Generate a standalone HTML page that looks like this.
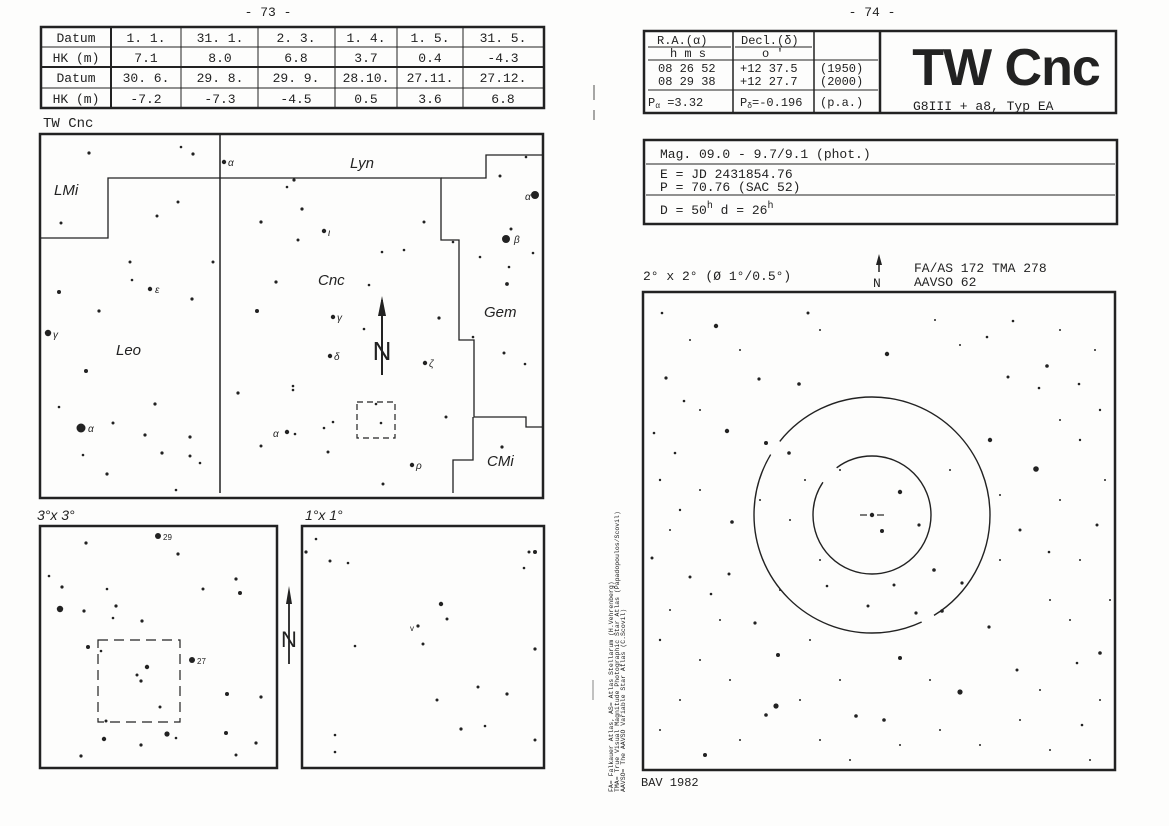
<!DOCTYPE html>
<html><head><meta charset="utf-8"><style>
html,body{margin:0;padding:0;background:#fff;}
svg{display:block}
text{font-family:"Liberation Mono",monospace;fill:#222}
text.s{font-family:"Liberation Sans",sans-serif;font-style:italic}
text.sa{font-family:"Liberation Sans",sans-serif}
</style></head><body>
<svg width="1169" height="826" viewBox="0 0 1169 826" xmlns="http://www.w3.org/2000/svg">
<rect width="1169" height="826" fill="#fdfdfc"/>
<line x1="594" y1="85" x2="594" y2="100" stroke="#888" stroke-width="1.5"/>
<line x1="594" y1="110" x2="594" y2="120" stroke="#888" stroke-width="1.5"/>
<line x1="593" y1="680" x2="593" y2="700" stroke="#999" stroke-width="1.2"/>

<!-- LEFT PAGE -->
<text x="268" y="16" font-size="13" text-anchor="middle">- 73 -</text>
<g stroke="#222" fill="none">
<rect x="41" y="27" width="503" height="81" stroke-width="2.5"/>
<line x1="41" y1="47" x2="544" y2="47" stroke-width="1"/>
<line x1="41" y1="67" x2="544" y2="67" stroke-width="2"/>
<line x1="41" y1="88" x2="544" y2="88" stroke-width="1"/>
<line x1="111" y1="27" x2="111" y2="108" stroke-width="2"/>
<line x1="181" y1="27" x2="181" y2="108"/>
<line x1="258" y1="27" x2="258" y2="108"/>
<line x1="335" y1="27" x2="335" y2="108"/>
<line x1="397" y1="27" x2="397" y2="108"/>
<line x1="463" y1="27" x2="463" y2="108"/>
</g>
<g font-size="13" text-anchor="middle">
<text x="76" y="42">Datum</text><text x="146" y="42">1. 1.</text><text x="220" y="42">31. 1.</text><text x="296" y="42">2. 3.</text><text x="366" y="42">1. 4.</text><text x="430" y="42">1. 5.</text><text x="503" y="42">31. 5.</text>
<text x="76" y="62">HK (m)</text><text x="146" y="62">7.1</text><text x="220" y="62">8.0</text><text x="296" y="62">6.8</text><text x="366" y="62">3.7</text><text x="430" y="62">0.4</text><text x="503" y="62">-4.3</text>
<text x="76" y="82">Datum</text><text x="146" y="82">30. 6.</text><text x="220" y="82">29. 8.</text><text x="296" y="82">29. 9.</text><text x="366" y="82">28.10.</text><text x="430" y="82">27.11.</text><text x="503" y="82">27.12.</text>
<text x="76" y="103">HK (m)</text><text x="146" y="103">-7.2</text><text x="220" y="103">-7.3</text><text x="296" y="103">-4.5</text><text x="366" y="103">0.5</text><text x="430" y="103">3.6</text><text x="503" y="103">6.8</text>
</g>
<text x="43" y="127" font-size="14">TW Cnc</text>

<g stroke="#222" fill="none">
<rect x="40" y="134" width="503" height="364" stroke-width="2.5"/>
<line x1="220" y1="134" x2="220" y2="493" stroke-width="1.5"/>
<polyline points="40,238 108,238 108,178 441,178 441,240 459,240 459,340 474,340 474,417 526,417 526,427 543,427" stroke-width="1.3"/>
<polyline points="441,178 486,178 486,155 543,155" stroke-width="1.3"/>
<polyline points="473,417 473,460 453,460 453,493" stroke-width="1.3"/>
<rect x="357" y="402" width="38" height="36" stroke-dasharray="6,4" stroke-width="1.2"/>
<line x1="382" y1="300" x2="382" y2="375" stroke-width="2"/>
</g>
<polygon points="382,296 378,316 386,316" fill="#222"/>
<text x="382" y="360" font-size="26" class="sa" text-anchor="middle">N</text>
<g font-size="15">
<text class="s" x="54" y="195">LMi</text><text class="s" x="350" y="168">Lyn</text><text class="s" x="318" y="285">Cnc</text>
<text class="s" x="484" y="317">Gem</text><text class="s" x="116" y="355">Leo</text><text class="s" x="487" y="466">CMi</text>
</g>
<g fill="#222">
<circle cx="89" cy="153" r="1.6"/><circle cx="181" cy="147" r="1.3"/><circle cx="193" cy="154" r="1.6"/><circle cx="224" cy="162" r="2.2"/>
<circle cx="294" cy="180" r="1.6"/><circle cx="287" cy="187" r="1.3"/><circle cx="178" cy="202" r="1.5"/><circle cx="157" cy="216" r="1.5"/>
<circle cx="61" cy="223" r="1.5"/><circle cx="302" cy="209" r="1.6"/><circle cx="261" cy="222" r="1.6"/><circle cx="324" cy="231" r="2.2"/>
<circle cx="424" cy="222" r="1.5"/><circle cx="298" cy="240" r="1.5"/><circle cx="382" cy="252" r="1.3"/><circle cx="404" cy="250" r="1.3"/>
<circle cx="453" cy="242" r="1.3"/><circle cx="526" cy="157" r="1.3"/><circle cx="500" cy="176" r="1.5"/><circle cx="535" cy="195" r="4"/>
<circle cx="511" cy="229" r="1.5"/><circle cx="506" cy="239" r="4"/><circle cx="480" cy="257" r="1.3"/><circle cx="533" cy="253" r="1.3"/>
<circle cx="509" cy="267" r="1.3"/><circle cx="507" cy="284" r="1.9"/><circle cx="130" cy="262" r="1.5"/><circle cx="213" cy="262" r="1.5"/>
<circle cx="132" cy="280" r="1.3"/><circle cx="150" cy="289" r="2.2"/><circle cx="192" cy="299" r="1.6"/><circle cx="59" cy="292" r="2"/>
<circle cx="276" cy="282" r="1.6"/><circle cx="369" cy="285" r="1.3"/><circle cx="99" cy="311" r="1.6"/><circle cx="257" cy="311" r="2"/>
<circle cx="333" cy="317" r="2.2"/><circle cx="439" cy="318" r="1.6"/><circle cx="364" cy="329" r="1.3"/><circle cx="48" cy="333" r="3.2"/>
<circle cx="473" cy="337" r="1.3"/><circle cx="330" cy="356" r="2.2"/><circle cx="425" cy="363" r="2.2"/><circle cx="504" cy="353" r="1.5"/>
<circle cx="525" cy="364" r="1.3"/><circle cx="86" cy="371" r="2"/><circle cx="293" cy="386" r="1.3"/><circle cx="293" cy="390" r="1.3"/>
<circle cx="238" cy="393" r="1.6"/><circle cx="59" cy="407" r="1.3"/><circle cx="155" cy="404" r="1.6"/><circle cx="376" cy="404" r="1.3"/>
<circle cx="381" cy="423" r="1.3"/><circle cx="446" cy="417" r="1.5"/><circle cx="81" cy="428" r="4.5"/><circle cx="113" cy="423" r="1.5"/>
<circle cx="333" cy="422" r="1.3"/><circle cx="324" cy="428" r="1.3"/><circle cx="287" cy="432" r="2.2"/><circle cx="295" cy="434" r="1.3"/>
<circle cx="145" cy="435" r="1.6"/><circle cx="190" cy="437" r="1.6"/><circle cx="261" cy="446" r="1.5"/><circle cx="328" cy="452" r="1.5"/>
<circle cx="83" cy="455" r="1.3"/><circle cx="162" cy="453" r="1.6"/><circle cx="190" cy="456" r="1.5"/><circle cx="200" cy="463" r="1.3"/>
<circle cx="412" cy="465" r="2.2"/><circle cx="502" cy="447" r="1.6"/><circle cx="107" cy="474" r="1.6"/><circle cx="383" cy="484" r="1.5"/><circle cx="176" cy="490" r="1.3"/>
</g>
<g font-size="10">
<text class="s" x="228" y="166">α</text><text class="s" x="328" y="236">ι</text><text class="s" x="155" y="293">ε</text><text class="s" x="337" y="321">γ</text><text class="s" x="53" y="338">γ</text>
<text class="s" x="334" y="360">δ</text><text class="s" x="429" y="367">ζ</text><text class="s" x="514" y="243">β</text><text class="s" x="525" y="200">α</text><text class="s" x="88" y="432">α</text>
<text class="s" x="273" y="437">α</text><text class="s" x="416" y="469">ρ</text>
</g>

<text x="37" y="520" class="s" font-size="14">3°x 3°</text>
<text x="305" y="520" class="s" font-size="14">1°x 1°</text>
<g stroke="#222" fill="none">
<rect x="40" y="526" width="237" height="242" stroke-width="2.5"/>
<rect x="302" y="526" width="242" height="242" stroke-width="2.5"/>
<rect x="98" y="640" width="82" height="82" stroke-dasharray="10,6" stroke-width="1.2"/>
<line x1="289" y1="592" x2="289" y2="664" stroke-width="1.8"/>
</g>
<polygon points="289,586 286,604 292,604" fill="#222"/>
<text x="289" y="647" font-size="22" text-anchor="middle" class="sa">N</text>
<g fill="#222">
<circle cx="158" cy="536" r="3"/><circle cx="86" cy="543" r="1.6"/><circle cx="178" cy="554" r="1.6"/><circle cx="49" cy="576" r="1.3"/>
<circle cx="62" cy="587" r="1.6"/><circle cx="236" cy="579" r="1.6"/><circle cx="107" cy="589" r="1.3"/><circle cx="203" cy="589" r="1.5"/>
<circle cx="240" cy="593" r="2"/><circle cx="60" cy="609" r="3.2"/><circle cx="84" cy="611" r="1.6"/><circle cx="116" cy="606" r="1.6"/>
<circle cx="113" cy="618" r="1.3"/><circle cx="142" cy="621" r="1.6"/><circle cx="88" cy="647" r="2"/><circle cx="101" cy="651" r="1.3"/>
<circle cx="192" cy="660" r="3"/><circle cx="147" cy="667" r="2.2"/><circle cx="137" cy="675" r="1.5"/><circle cx="141" cy="681" r="1.6"/>
<circle cx="227" cy="694" r="2"/><circle cx="261" cy="697" r="1.6"/><circle cx="160" cy="707" r="1.5"/><circle cx="106" cy="721" r="1.5"/>
<circle cx="167" cy="734" r="2.6"/><circle cx="104" cy="739" r="2.2"/><circle cx="176" cy="738" r="1.3"/><circle cx="226" cy="733" r="2"/>
<circle cx="141" cy="745" r="1.6"/><circle cx="256" cy="743" r="1.6"/><circle cx="81" cy="756" r="1.6"/><circle cx="236" cy="755" r="1.5"/>
<circle cx="316" cy="539" r="1.3"/><circle cx="306" cy="552" r="1.6"/><circle cx="330" cy="561" r="1.5"/><circle cx="348" cy="563" r="1.3"/>
<circle cx="529" cy="552" r="1.5"/><circle cx="535" cy="552" r="2"/><circle cx="524" cy="568" r="1.3"/><circle cx="441" cy="604" r="2.2"/>
<circle cx="447" cy="619" r="1.5"/><circle cx="418" cy="626" r="1.6"/><circle cx="355" cy="646" r="1.3"/><circle cx="423" cy="644" r="1.5"/>
<circle cx="535" cy="649" r="1.6"/><circle cx="478" cy="687" r="1.5"/><circle cx="507" cy="694" r="1.6"/><circle cx="437" cy="700" r="1.5"/>
<circle cx="461" cy="729" r="1.6"/><circle cx="485" cy="726" r="1.3"/><circle cx="335" cy="735" r="1.3"/><circle cx="335" cy="752" r="1.3"/><circle cx="535" cy="740" r="1.5"/>
</g>
<text x="163" y="540" font-size="8" class="sa">29</text>
<text x="197" y="664" font-size="8" class="sa">27</text>
<text x="410" y="631" font-size="8" class="sa">v</text>

<!-- RIGHT PAGE -->
<text x="872" y="16" font-size="13" text-anchor="middle">- 74 -</text>
<g stroke="#222" fill="none">
<rect x="644" y="31" width="472" height="82" stroke-width="2.5"/>
<line x1="733" y1="31" x2="733" y2="113" stroke-width="1.5"/>
<line x1="814" y1="31" x2="814" y2="113" stroke-width="1.5"/>
<line x1="880" y1="31" x2="880" y2="113" stroke-width="2.5"/>
<line x1="648" y1="47" x2="731" y2="47"/><line x1="735" y1="47" x2="812" y2="47"/>
<line x1="648" y1="60" x2="878" y2="60"/>
<line x1="648" y1="90" x2="878" y2="90"/>
</g>
<g font-size="12">
<text x="657" y="44">R.A.(α)</text><text x="741" y="44">Decl.(δ)</text>
<text x="670" y="57">h  m  s</text><text x="762" y="57">o  '</text>
<text x="658" y="72">08 26 52</text><text x="740" y="72">+12 37.5</text><text x="820" y="72">(1950)</text>
<text x="658" y="85">08 29 38</text><text x="740" y="85">+12 27.7</text><text x="820" y="85">(2000)</text>
<text x="648" y="106">P<tspan font-size="8" dy="2">α</tspan><tspan dy="-2"> =3.32</tspan></text><text x="740" y="106">P<tspan font-size="8" dy="2">δ</tspan><tspan dy="-2">=-0.196</tspan></text><text x="820" y="106">(p.a.)</text>
</g>
<text x="1006" y="85" font-size="52" font-weight="bold" class="sa" text-anchor="middle" letter-spacing="-1">TW Cnc</text>
<text x="913" y="110" font-size="13">G8III + a8,  Typ EA</text>

<g stroke="#222" fill="none">
<rect x="644" y="140" width="473" height="84" stroke-width="2.5"/>
<line x1="646" y1="164" x2="1115" y2="164"/>
<line x1="646" y1="195" x2="1115" y2="195"/>
</g>
<g font-size="13">
<text x="660" y="158">Mag. 09.0 - 9.7/9.1 (phot.)</text>
<text x="660" y="178">E = JD 2431854.76</text>
<text x="660" y="191">P = 70.76     (SAC 52)</text>
<text x="660" y="214">D = 50<tspan font-size="10" dy="-6">h</tspan><tspan dy="6">   d = 26</tspan><tspan font-size="10" dy="-6">h</tspan></text>
<text x="643" y="280">2° x 2° (Ø 1°/0.5°)</text>
<text x="914" y="272">FA/AS 172   TMA 278</text>
<text x="914" y="286">AAVSO 62</text>
<text x="873" y="287">N</text>
</g>
<line x1="879" y1="258" x2="879" y2="272" stroke="#222" stroke-width="1.5"/>
<polygon points="879,254 876,265 882,265" fill="#222"/>

<rect x="643" y="292" width="472" height="478" fill="none" stroke="#222" stroke-width="2.5"/>
<circle cx="872" cy="515" r="118" fill="none" stroke="#222" stroke-width="1.4" stroke-dasharray="120,14,300,16,400"/>
<circle cx="872" cy="515" r="59" fill="none" stroke="#222" stroke-width="1.4" stroke-dasharray="220,20,200"/>
<line x1="860" y1="515" x2="867" y2="515" stroke="#222" stroke-width="1.2"/>
<line x1="877" y1="515" x2="884" y2="515" stroke="#222" stroke-width="1.2"/>
<g fill="#222">
<circle cx="662" cy="313" r="1.3"/><circle cx="716" cy="326" r="2.2"/><circle cx="887" cy="354" r="2.2"/><circle cx="1047" cy="366" r="1.8"/>
<circle cx="666" cy="378" r="1.6"/><circle cx="759" cy="379" r="1.6"/><circle cx="799" cy="384" r="1.8"/><circle cx="1008" cy="377" r="1.5"/>
<circle cx="1079" cy="384" r="1.3"/><circle cx="1039" cy="388" r="1.3"/><circle cx="684" cy="401" r="1.3"/><circle cx="727" cy="431" r="2.2"/>
<circle cx="766" cy="443" r="2"/><circle cx="990" cy="440" r="2.2"/><circle cx="1036" cy="469" r="2.8"/><circle cx="789" cy="453" r="1.8"/>
<circle cx="654" cy="433" r="1.3"/><circle cx="675" cy="453" r="1.3"/><circle cx="900" cy="492" r="2.2"/><circle cx="872" cy="515" r="2.2"/>
<circle cx="882" cy="531" r="2"/><circle cx="919" cy="525" r="1.6"/><circle cx="732" cy="522" r="1.8"/><circle cx="652" cy="558" r="1.5"/>
<circle cx="690" cy="577" r="1.5"/><circle cx="729" cy="574" r="1.5"/><circle cx="934" cy="570" r="1.8"/><circle cx="962" cy="583" r="1.6"/>
<circle cx="894" cy="585" r="1.5"/><circle cx="711" cy="594" r="1.3"/><circle cx="868" cy="606" r="1.5"/><circle cx="916" cy="613" r="1.6"/>
<circle cx="942" cy="611" r="1.8"/><circle cx="755" cy="623" r="1.6"/><circle cx="989" cy="627" r="1.6"/><circle cx="778" cy="655" r="2"/>
<circle cx="900" cy="658" r="2"/><circle cx="1100" cy="653" r="1.8"/><circle cx="960" cy="692" r="2.6"/><circle cx="776" cy="706" r="2.6"/>
<circle cx="766" cy="715" r="1.8"/><circle cx="856" cy="716" r="1.8"/><circle cx="884" cy="720" r="1.8"/><circle cx="705" cy="755" r="2"/>
<circle cx="1017" cy="670" r="1.5"/><circle cx="1049" cy="552" r="1.3"/><circle cx="1097" cy="525" r="1.5"/><circle cx="1020" cy="530" r="1.5"/>
<circle cx="827" cy="586" r="1.3"/><circle cx="1082" cy="725" r="1.3"/><circle cx="1077" cy="663" r="1.3"/><circle cx="1013" cy="321" r="1.3"/>
<circle cx="808" cy="313" r="1.5"/><circle cx="987" cy="337" r="1.3"/>
<circle cx="690" cy="340" r="1"/><circle cx="740" cy="350" r="1"/><circle cx="820" cy="330" r="1"/><circle cx="935" cy="320" r="1"/>
<circle cx="960" cy="345" r="1"/><circle cx="1060" cy="330" r="1"/><circle cx="1095" cy="350" r="1"/><circle cx="1100" cy="410" r="1.2"/>
<circle cx="1060" cy="420" r="1"/><circle cx="1080" cy="440" r="1.2"/><circle cx="700" cy="410" r="1"/><circle cx="660" cy="480" r="1.2"/>
<circle cx="700" cy="490" r="1"/><circle cx="680" cy="510" r="1.2"/><circle cx="670" cy="530" r="1"/><circle cx="760" cy="500" r="1"/>
<circle cx="790" cy="520" r="1"/><circle cx="805" cy="480" r="1"/><circle cx="840" cy="470" r="1"/><circle cx="950" cy="470" r="1"/>
<circle cx="1000" cy="495" r="1"/><circle cx="1060" cy="500" r="1"/><circle cx="1105" cy="480" r="1"/><circle cx="1080" cy="560" r="1"/>
<circle cx="1110" cy="600" r="1"/><circle cx="1050" cy="600" r="1"/><circle cx="1000" cy="560" r="1"/><circle cx="820" cy="560" r="1"/>
<circle cx="780" cy="590" r="1"/><circle cx="670" cy="610" r="1"/><circle cx="660" cy="640" r="1.2"/><circle cx="700" cy="660" r="1"/>
<circle cx="730" cy="680" r="1"/><circle cx="680" cy="700" r="1"/><circle cx="660" cy="730" r="1"/><circle cx="740" cy="740" r="1"/>
<circle cx="800" cy="700" r="1"/><circle cx="820" cy="740" r="1"/><circle cx="850" cy="760" r="1"/><circle cx="900" cy="745" r="1"/>
<circle cx="940" cy="730" r="1"/><circle cx="980" cy="745" r="1"/><circle cx="1020" cy="720" r="1"/><circle cx="1050" cy="750" r="1"/>
<circle cx="1090" cy="760" r="1"/><circle cx="1100" cy="700" r="1"/><circle cx="1040" cy="690" r="1"/><circle cx="930" cy="680" r="1"/>
<circle cx="840" cy="680" r="1"/><circle cx="810" cy="640" r="1"/><circle cx="1070" cy="620" r="1"/><circle cx="720" cy="620" r="1"/>
</g>
<text x="641" y="786" font-size="12">BAV 1982</text>

<g font-size="6.5">
<text transform="translate(613,792) rotate(-90)">FA= Falkauer Atlas, AS= Atlas Stellarum (H.Vehrenberg)</text>
<text transform="translate(619,792) rotate(-90)">TMA= True Visual Magnitude Photographic Star Atlas (Papadopoulos/Scovil)</text>
<text transform="translate(625,792) rotate(-90)">AAVSO= The AAVSO Variable Star Atlas (C.Scovil)</text>
</g>
</svg>
</body></html>
